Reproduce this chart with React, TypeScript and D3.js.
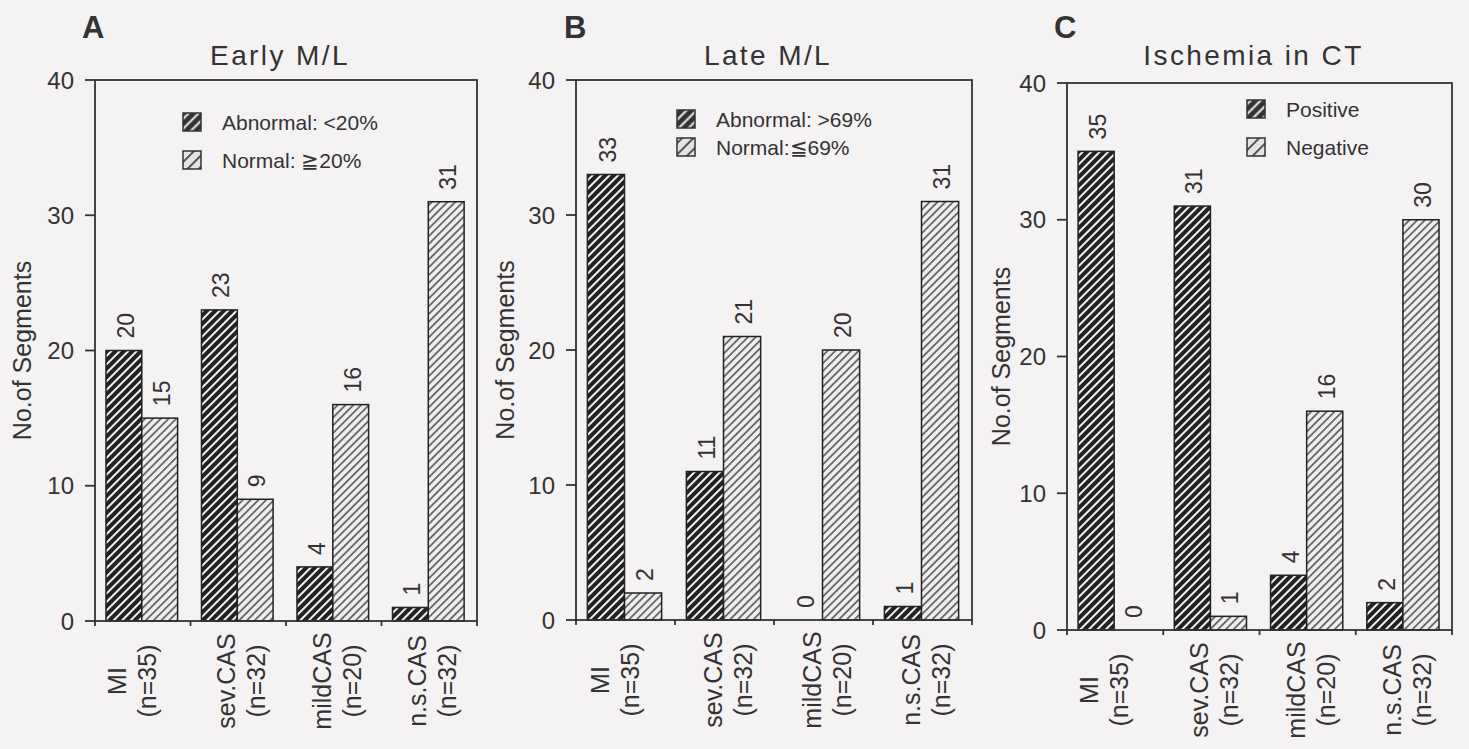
import React from 'react';
import * as d3 from 'd3';

const groups = ['MI', 'sev.CAS', 'mildCAS', 'n.s.CAS'];
const groupN = ['(n=35)', '(n=32)', '(n=20)', '(n=32)'];
const yTicks = [0, 10, 20, 30, 40];

const earlyAbnormal = [20, 23, 4, 1];
const earlyNormal = [15, 9, 16, 31];
const lateAbnormal = [33, 11, 0, 1];
const lateNormal = [2, 21, 20, 31];
const ctPositive = [35, 31, 4, 2];
const ctNegative = [0, 1, 16, 30];

const FONT = '"Liberation Sans", Arial, Helvetica, sans-serif';
const INK = '#333';

const panels = [
  {
    letter: 'A', title: 'Early  M/L', x0: 95, x1: 477, yTop: 80, yBot: 621,
    series: [earlyAbnormal, earlyNormal],
    legend: ['Abnormal: <20%', 'Normal: ≧20%'], legX: 183, legY: [122, 160],
    letterX: 82, yLabelX: 22,
  },
  {
    letter: 'B', title: 'Late  M/L', x0: 576, x1: 972, yTop: 80, yBot: 620,
    series: [lateAbnormal, lateNormal],
    legend: ['Abnormal: >69%', 'Normal:≦69%'], legX: 677, legY: [119, 147],
    letterX: 564, yLabelX: 505,
  },
  {
    letter: 'C', title: 'Ischemia in CT', x0: 1067, x1: 1452, yTop: 83, yBot: 630,
    series: [ctPositive, ctNegative],
    legend: ['Positive', 'Negative'], legX: 1247, legY: [109, 147],
    letterX: 1054, yLabelX: 1001,
  },
];

const fills = ['url(#hatchDark)', 'url(#hatchLight)'];

function Panel({ p }: { p: (typeof panels)[number] }) {
  const x = d3.scaleBand<string>().domain(groups).range([p.x0, p.x1]).paddingInner(0).paddingOuter(0);
  const bw = x.bandwidth();
  const sub = d3.scaleBand<number>().domain([0, 1]).range([bw * 0.115, bw * 0.865]).padding(0);
  const y = d3.scaleLinear().domain([0, 40]).range([p.yBot, p.yTop]);
  const cx = (p.x0 + p.x1) / 2;

  return (
    <g fontFamily={FONT} fill={INK}>
      <text x={p.letterX} y={38} fontSize={31} fontWeight="bold">{p.letter}</text>
      <text x={cx - 6} y={65} fontSize={28} textAnchor="middle" letterSpacing={2.4}>{p.title}</text>
      <text
        transform={`translate(${p.yLabelX},${y(20)}) rotate(-90)`}
        fontSize={25} textAnchor="middle" dominantBaseline="central"
      >No.of Segments</text>

      {/* bars */}
      {p.series.map((vals, si) =>
        vals.map((v, gi) => {
          const bx = (x(groups[gi]) as number) + (sub(si) as number);
          const sw = sub.bandwidth();
          return (
            <g key={`${si}-${gi}`}>
              {v > 0 && (
                <rect x={bx} y={y(v)} width={sw} height={y(0) - y(v)}
                  fill={fills[si]} stroke="#222" strokeWidth={1.5} />
              )}
              <text
                transform={`translate(${bx + sw / 2 + 2},${y(v) - 12}) rotate(-90)`}
                fontSize={23} dominantBaseline="central"
              >{v}</text>
            </g>
          );
        })
      )}

      {/* frame */}
      <rect x={p.x0} y={p.yTop} width={p.x1 - p.x0} height={p.yBot - p.yTop}
        fill="none" stroke={INK} strokeWidth={1.8} />

      {/* y axis */}
      {yTicks.map(t => (
        <g key={t}>
          <line x1={p.x0 - 10} x2={p.x0} y1={y(t)} y2={y(t)} stroke={INK} strokeWidth={1.8} />
          <text x={p.x0 - 21} y={y(t)} fontSize={24} textAnchor="end" dominantBaseline="central">{t}</text>
        </g>
      ))}

      {/* x ticks at group boundaries */}
      {groups.map(g => (
        <line key={g} x1={x(g) as number} x2={x(g) as number} y1={p.yBot} y2={p.yBot + 5}
          stroke={INK} strokeWidth={1.8} />
      ))}
      <line x1={p.x1} x2={p.x1} y1={p.yBot} y2={p.yBot + 5} stroke={INK} strokeWidth={1.8} />

      {/* x labels */}
      {groups.map((g, i) => {
        const gc = (x(g) as number) + bw / 2;
        const off = i === 0 ? -26 : -12;
        return (
          <g key={g} fontSize={25}>
            <text transform={`translate(${gc + off},${p.yBot + 60}) rotate(-90)`}
              textAnchor="middle" dominantBaseline="central">{g}</text>
            <text transform={`translate(${gc + off + 30},${p.yBot + 60}) rotate(-90)`}
              textAnchor="middle" dominantBaseline="central">{groupN[i]}</text>
          </g>
        );
      })}

      {/* legend */}
      {p.legend.map((l, i) => (
        <g key={l}>
          <rect x={p.legX} y={p.legY[i] - 9} width={18} height={18}
            fill={i === 0 ? 'url(#legDark)' : 'url(#legLight)'} stroke="#333" strokeWidth={1.5} />
          <text x={p.legX + 39} y={p.legY[i]} fontSize={21} dominantBaseline="central">{l}</text>
        </g>
      ))}
    </g>
  );
}

export default function App() {
  return (
    <div style={{ position: 'fixed', left: 0, top: 0 }}>
      <svg width={1469} height={749} style={{ display: 'block', background: '#f4f2f2' }}>
        <defs>
          <pattern id="hatchDark" patternUnits="userSpaceOnUse" width={6} height={6} patternTransform="rotate(45)">
            <rect width={6} height={6} fill="#222" />
            <line x1={3} y1={0} x2={3} y2={6} stroke="#f0f0f0" strokeWidth={2} />
          </pattern>
          <pattern id="hatchLight" patternUnits="userSpaceOnUse" width={5.5} height={5.5} patternTransform="rotate(45)">
            <rect width={5.5} height={5.5} fill="#eeeeee" />
            <line x1={2.75} y1={0} x2={2.75} y2={5.5} stroke="#333" strokeWidth={1.3} />
          </pattern>
          <pattern id="legDark" patternUnits="userSpaceOnUse" width={7} height={7} patternTransform="rotate(45)">
            <rect width={7} height={7} fill="#333" />
            <line x1={3.5} y1={0} x2={3.5} y2={7} stroke="#f0f0f0" strokeWidth={2} />
          </pattern>
          <pattern id="legLight" patternUnits="userSpaceOnUse" width={8} height={8} patternTransform="rotate(45)">
            <rect width={8} height={8} fill="#e4e4e4" />
            <line x1={4} y1={0} x2={4} y2={8} stroke="#444" strokeWidth={1.8} />
          </pattern>
        </defs>
        {panels.map(p => <Panel key={p.letter} p={p} />)}
      </svg>
    </div>
  );
}
